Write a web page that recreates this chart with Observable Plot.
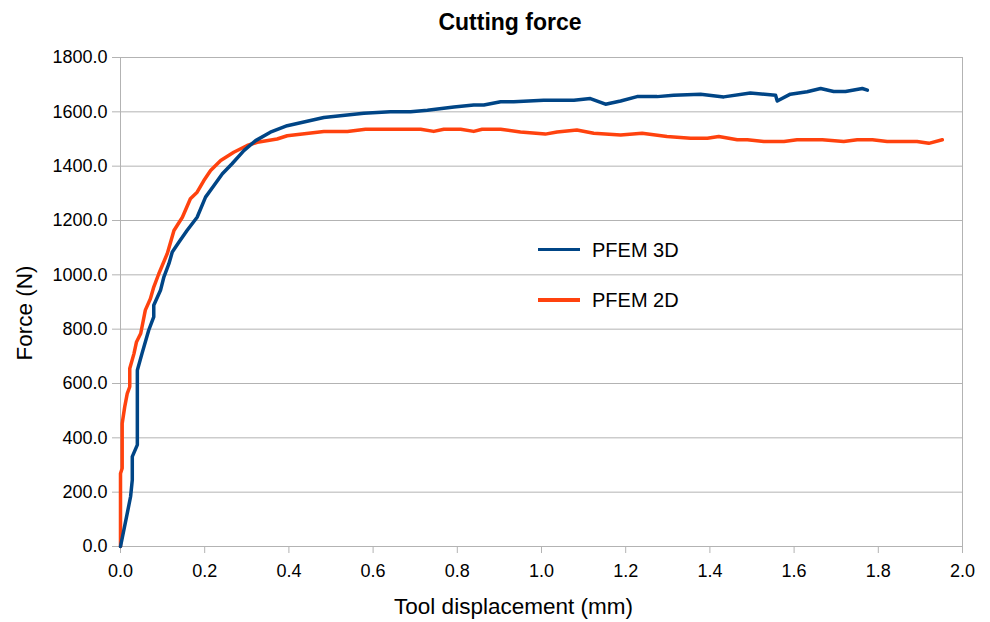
<!DOCTYPE html>
<html>
<head>
<meta charset="utf-8">
<script src="https://cdn.jsdelivr.net/npm/d3@7"></script>
<script src="https://cdn.jsdelivr.net/npm/@observablehq/plot@0.6"></script>
<style>
  html, body { margin: 0; padding: 0; background: #fff; }
  #wrap { position: relative; width: 990px; height: 622px; font-family: "Liberation Sans", Arial, sans-serif; }
  #title { height: 44px; line-height: 44px; font-size: 23px; font-weight: bold; text-align: center; padding-left: 30px; box-sizing: border-box; color: #000; }
  .leg-line { position: absolute; height: 3.5px; width: 42px; }
  .leg-text { position: absolute; font-size: 20px; line-height: 20px; color: #000; white-space: nowrap; }
</style>
</head>
<body>
<div id="wrap">
  <div id="title">Cutting force</div>
  <div id="chart"></div>
  <div class="leg-line" style="left:538px; top:247.5px; background:#004586;"></div>
  <div class="leg-text" style="left:592px; top:240px;">PFEM 3D</div>
  <div class="leg-line" style="left:538px; top:298px; background:#ff420e;"></div>
  <div class="leg-text" style="left:592px; top:290px;">PFEM 2D</div>
</div>
<script>
const seriesNames = ["PFEM 3D", "PFEM 2D"];
const seriesColors = ["#004586", "#ff420e"];

const x3d = [0, 0.016, 0.024, 0.028, 0.028, 0.040, 0.040, 0.051, 0.067, 0.079, 0.079, 0.095, 0.103, 0.115, 0.123, 0.139, 0.158, 0.182, 0.202, 0.222, 0.242, 0.265, 0.293, 0.321, 0.356, 0.396, 0.483, 0.578, 0.641, 0.689, 0.729, 0.792, 0.839, 0.863, 0.903, 0.934, 1.005, 1.077, 1.116, 1.152, 1.188, 1.227, 1.275, 1.314, 1.378, 1.433, 1.496, 1.556, 1.560, 1.591, 1.631, 1.663, 1.694, 1.722, 1.762, 1.774];
const y3d = [0, 122, 184, 245, 331, 374, 649, 710, 796, 845, 888, 943, 992, 1041, 1084, 1121, 1163, 1212, 1286, 1329, 1372, 1409, 1457, 1494, 1525, 1549, 1579, 1595, 1600, 1600, 1606, 1618, 1625, 1625, 1637, 1637, 1643, 1643, 1649, 1628, 1640, 1656, 1656, 1661, 1665, 1655, 1669, 1661, 1640, 1665, 1674, 1686, 1675, 1675, 1686, 1680];

const x2d = [0, 0, 0.004, 0.004, 0.010, 0.016, 0.022, 0.022, 0.032, 0.038, 0.048, 0.059, 0.071, 0.079, 0.091, 0.111, 0.127, 0.147, 0.166, 0.182, 0.198, 0.214, 0.238, 0.269, 0.301, 0.325, 0.372, 0.396, 0.483, 0.539, 0.582, 0.713, 0.744, 0.768, 0.808, 0.839, 0.859, 0.903, 0.950, 1.009, 1.037, 1.084, 1.124, 1.188, 1.239, 1.298, 1.354, 1.394, 1.421, 1.465, 1.489, 1.528, 1.576, 1.607, 1.667, 1.718, 1.750, 1.786, 1.821, 1.892, 1.920, 1.952];
const y2d = [0, 269, 288, 453, 514, 563, 588, 655, 710, 753, 784, 870, 912, 955, 1004, 1078, 1163, 1212, 1280, 1304, 1347, 1384, 1421, 1451, 1476, 1488, 1500, 1512, 1528, 1528, 1536, 1536, 1528, 1536, 1536, 1528, 1536, 1536, 1526, 1518, 1526, 1533, 1521, 1515, 1521, 1509, 1503, 1503, 1509, 1497, 1497, 1491, 1491, 1497, 1497, 1491, 1497, 1497, 1491, 1491, 1484, 1497];

const xTicks = [0, 0.2, 0.4, 0.6, 0.8, 1.0, 1.2, 1.4, 1.6, 1.8, 2.0];
const yTicks = [0, 200, 400, 600, 800, 1000, 1200, 1400, 1600, 1800];

const data3d = x3d.map((x, i) => ({x, y: y3d[i], s: seriesNames[0]}));
const data2d = x2d.map((x, i) => ({x, y: y2d[i], s: seriesNames[1]}));

const gridColor = "#b3b3b3";

const chart = Plot.plot({
  width: 990,
  height: 578,
  marginLeft: 120,
  marginRight: 28,
  marginTop: 13,
  marginBottom: 76,
  style: {fontFamily: "Liberation Sans, Arial, sans-serif", fontSize: "18px", color: "#000", background: "#fff"},
  x: {domain: [0, 2], ticks: xTicks},
  y: {domain: [0, 1800], ticks: yTicks},
  color: {domain: seriesNames, range: seriesColors},
  marks: [
    Plot.gridY(yTicks, {stroke: gridColor, strokeOpacity: 1, strokeWidth: 1}),
    Plot.frame({stroke: gridColor, strokeWidth: 1}),
    Plot.axisY(yTicks, {tickFormat: d3.format(".1f"), tickSize: 8, tickPadding: 5, stroke: gridColor, fill: "#000", fontSize: 18,
      label: "Force (N)", labelAnchor: "center", labelOffset: 104, labelArrow: "none"}),
    Plot.axisX(xTicks, {tickFormat: d3.format(".1f"), tickSize: 7, tickPadding: 11, stroke: gridColor, fill: "#000", fontSize: 18,
      label: "Tool displacement (mm)", labelAnchor: "center", labelOffset: 67, labelArrow: "none"}),
    Plot.line(data2d, {x: "x", y: "y", stroke: "s", strokeWidth: 3.5, strokeLinejoin: "round"}),
    Plot.line(data3d, {x: "x", y: "y", stroke: "s", strokeWidth: 3.5, strokeLinejoin: "round"})
  ]
});
document.getElementById("chart").appendChild(chart);
// axis title size and placement as in the reference
const xl = chart.querySelector("g[aria-label='x-axis label']");
const yl = chart.querySelector("g[aria-label='y-axis label']");
[xl, yl].forEach(g => g && g.querySelectorAll("text").forEach(t => t.setAttribute("font-size", "22.5")));
function shift(g, dx, dy) {
  if (!g) return;
  const wrapper = document.createElementNS("http://www.w3.org/2000/svg", "g");
  wrapper.setAttribute("transform", `translate(${dx},${dy})`);
  g.parentNode.insertBefore(wrapper, g);
  wrapper.appendChild(g);
}
shift(xl, -28, 0);
shift(yl, 0, 11);
</script>
</body>
</html>
